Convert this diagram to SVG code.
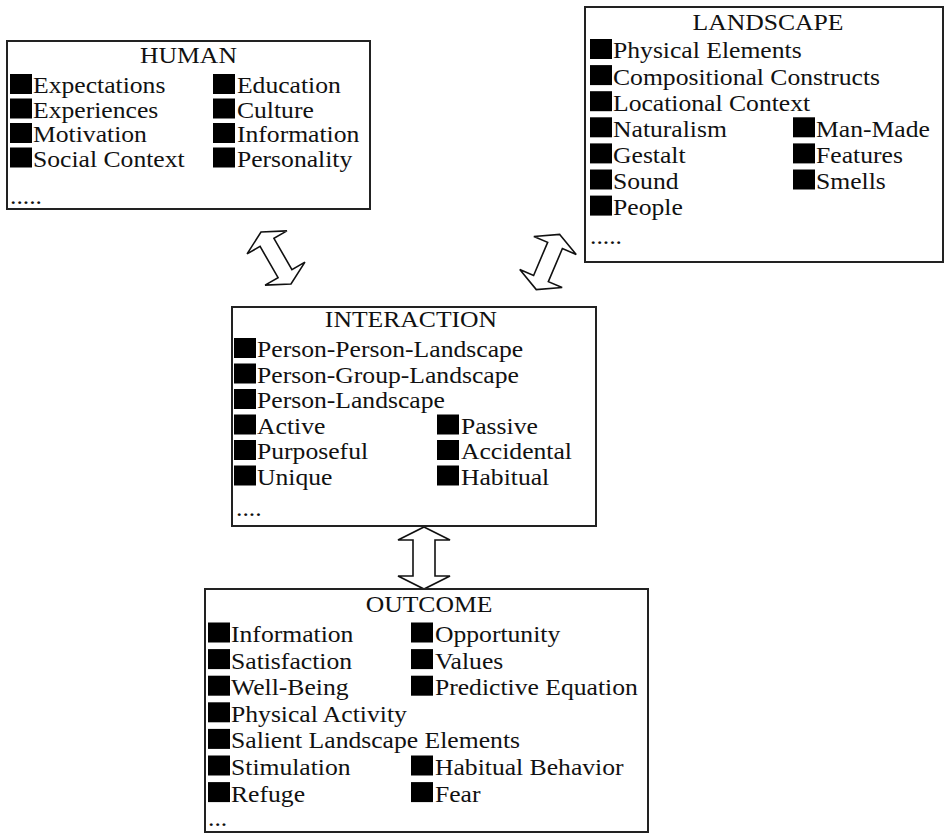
<svg xmlns="http://www.w3.org/2000/svg" xmlns:xlink="http://www.w3.org/1999/xlink" width="945" height="834" viewBox="0 0 945 834">
  <style>
    .box { fill: #fff; stroke: #222; stroke-width: 2; }
    .t { font-family: "Liberation Serif", "Times New Roman", serif; font-size: 22.5px; fill: #111; }
    .ttl { text-anchor: middle; }
    .arrow { fill: #fff; stroke: #111; stroke-width: 1.6; stroke-linejoin: miter; }
  </style>
  <defs>
    <rect id="sq" width="22" height="20" fill="#000"/>
    <!-- double-headed block arrow, drawn vertically about its centre -->
    <polygon id="dbl" points="0,-30 23,-18 8,-18 8,18 23,18 0,30 -23,18 -8,18 -8,-18 -23,-18"/>
  </defs>
  <rect width="945" height="834" fill="#fff"/>

  <!-- connectors -->
  <g id="connectors">
    <use href="#dbl" class="arrow" transform="translate(276 258) rotate(-30)"/>
    <use href="#dbl" class="arrow" transform="translate(548 262) rotate(23)"/>
    <polygon class="arrow" points="424,527 450,540 435,540 435,576 450,576 424,589 398,576 413,576 413,540 398,540"/>
  </g>

  <!-- HUMAN -->
  <g id="human">
    <rect class="box" x="7" y="41" width="363" height="168"/>
    <use href="#sq" x="10" y="74"/><use href="#sq" x="213" y="74"/>
    <use href="#sq" x="10" y="98.5"/><use href="#sq" x="213" y="98.5"/>
    <use href="#sq" x="10" y="123"/><use href="#sq" x="213" y="123"/>
    <use href="#sq" x="10" y="147.5"/><use href="#sq" x="213" y="147.5"/>
    <g class="t" transform="translate(33 0) scale(1.14 1)">
      <text class="ttl" x="136.4" y="63">HUMAN</text>
      <text x="0" y="93.5">Expectations</text>
      <text x="0" y="118">Experiences</text>
      <text x="0" y="142.5">Motivation</text>
      <text x="0" y="167">Social Context</text>
      <text x="178.9" y="93.5">Education</text>
      <text x="178.9" y="118">Culture</text>
      <text x="178.9" y="142.5">Information</text>
      <text x="178.9" y="167">Personality</text>
      <text x="-20.2" y="204">.....</text>
    </g>
  </g>

  <!-- LANDSCAPE -->
  <g id="landscape">
    <rect class="box" x="585" y="7" width="358" height="255"/>
    <use href="#sq" x="590" y="39"/>
    <use href="#sq" x="590" y="65.1"/>
    <use href="#sq" x="590" y="91.2"/>
    <use href="#sq" x="590" y="117.3"/><use href="#sq" x="793" y="117.3"/>
    <use href="#sq" x="590" y="143.4"/><use href="#sq" x="793" y="143.4"/>
    <use href="#sq" x="590" y="169.5"/><use href="#sq" x="793" y="169.5"/>
    <use href="#sq" x="590" y="195.6"/>
    <g class="t" transform="translate(613 0) scale(1.14 1)">
      <text class="ttl" x="136" y="30.5">LANDSCAPE</text>
      <text x="0" y="58.5">Physical Elements</text>
      <text x="0" y="84.6">Compositional Constructs</text>
      <text x="0" y="110.7">Locational Context</text>
      <text x="0" y="136.8">Naturalism</text>
      <text x="0" y="162.9">Gestalt</text>
      <text x="0" y="189">Sound</text>
      <text x="0" y="215.1">People</text>
      <text x="178.1" y="136.8">Man-Made</text>
      <text x="178.1" y="162.9">Features</text>
      <text x="178.1" y="189">Smells</text>
      <text x="-20.2" y="244">.....</text>
    </g>
  </g>

  <!-- INTERACTION -->
  <g id="interaction">
    <rect class="box" x="232" y="307" width="364" height="219"/>
    <use href="#sq" x="234" y="338"/>
    <use href="#sq" x="234" y="363.5"/>
    <use href="#sq" x="234" y="389"/>
    <use href="#sq" x="234" y="414.5"/><use href="#sq" x="437" y="414.5"/>
    <use href="#sq" x="234" y="440"/><use href="#sq" x="437" y="440"/>
    <use href="#sq" x="234" y="465.5"/><use href="#sq" x="437" y="465.5"/>
    <g class="t" transform="translate(257 0) scale(1.14 1)">
      <text class="ttl" x="135.1" y="327">INTERACTION</text>
      <text x="0" y="357.5">Person-Person-Landscape</text>
      <text x="0" y="383">Person-Group-Landscape</text>
      <text x="0" y="408.5">Person-Landscape</text>
      <text x="0" y="434">Active</text>
      <text x="0" y="459.5">Purposeful</text>
      <text x="0" y="485">Unique</text>
      <text x="178.9" y="434">Passive</text>
      <text x="178.9" y="459.5">Accidental</text>
      <text x="178.9" y="485">Habitual</text>
      <text x="-18.4" y="516.5">....</text>
    </g>
  </g>

  <!-- OUTCOME -->
  <g id="outcome">
    <rect class="box" x="205" y="589" width="443" height="243"/>
    <use href="#sq" x="208" y="622.5"/><use href="#sq" x="411" y="622.5"/>
    <use href="#sq" x="208" y="649.1"/><use href="#sq" x="411" y="649.1"/>
    <use href="#sq" x="208" y="675.7"/><use href="#sq" x="411" y="675.7"/>
    <use href="#sq" x="208" y="702.3"/>
    <use href="#sq" x="208" y="728.9"/>
    <use href="#sq" x="208" y="755.5"/><use href="#sq" x="411" y="755.5"/>
    <use href="#sq" x="208" y="782.1"/><use href="#sq" x="411" y="782.1"/>
    <g class="t" transform="translate(231 0) scale(1.14 1)">
      <text class="ttl" x="173.7" y="612.5">OUTCOME</text>
      <text x="0" y="642">Information</text>
      <text x="0" y="668.6">Satisfaction</text>
      <text x="0" y="695.2">Well-Being</text>
      <text x="0" y="721.8">Physical Activity</text>
      <text x="0" y="748.4">Salient Landscape Elements</text>
      <text x="0" y="775">Stimulation</text>
      <text x="0" y="801.6">Refuge</text>
      <text x="178.9" y="642">Opportunity</text>
      <text x="178.9" y="668.6">Values</text>
      <text x="178.9" y="695.2">Predictive Equation</text>
      <text x="178.9" y="775">Habitual Behavior</text>
      <text x="178.9" y="801.6">Fear</text>
      <text x="-20.2" y="826">...</text>
    </g>
  </g>
</svg>
